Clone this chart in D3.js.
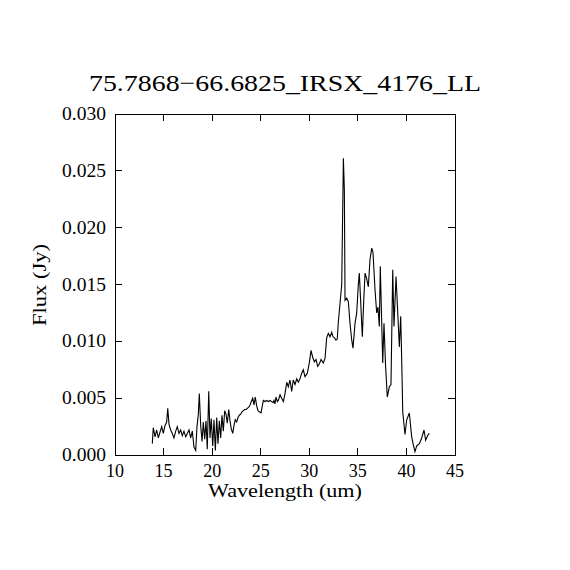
<!DOCTYPE html>
<html>
<head>
<meta charset="utf-8">
<script src="https://cdn.jsdelivr.net/npm/d3@7"></script>
<style>
  body { margin: 0; background: #fff; }
  text { font-family: "Liberation Serif", "DejaVu Serif", serif; fill: #000; }
</style>
</head>
<body>
<div id="chart"></div>
<script>
/* wavelength (um) */
const wavelength = [
  13.84, 13.94, 14.12, 14.29, 14.46, 14.63, 14.81, 14.97, 15.15, 15.32,
  15.43, 15.56, 15.73, 15.90, 16.07, 16.25, 16.41, 16.59, 16.76, 16.93,
  17.10, 17.28, 17.44, 17.62, 17.79, 17.96, 18.13, 18.31, 18.44, 18.58,
  18.68, 18.82, 18.96, 19.09, 19.23, 19.37, 19.50, 19.65, 19.78, 19.91,
  20.06, 20.19, 20.33, 20.47, 20.60, 20.74, 20.88, 21.01, 21.15, 21.29,
  21.43, 21.56, 21.71, 21.84, 21.97, 22.12, 22.25, 22.38, 22.53, 22.66,
  22.80, 22.94, 23.07, 23.21, 23.35, 23.49, 23.62, 23.76, 23.90, 24.03,
  24.18, 24.31, 24.44, 24.59, 24.72, 24.85, 25.03, 25.16, 25.27, 25.44,
  25.62, 25.78, 25.96, 26.13, 26.27, 26.37, 26.47, 26.57, 26.71, 26.81,
  26.99, 27.16, 27.33, 27.50, 27.68, 27.84, 28.01, 28.19, 28.35, 28.53,
  28.71, 28.87, 29.04, 29.22, 29.38, 29.56, 29.80, 30.00, 30.18, 30.35,
  30.52, 30.69, 30.87, 31.03, 31.21, 31.44, 31.62, 31.79, 31.96, 32.13,
  32.31, 32.44, 32.60, 32.75, 32.88, 32.99, 33.16, 33.34, 33.51, 33.61,
  33.68, 33.85, 34.02, 34.19, 34.37, 34.50, 34.71, 34.88, 35.05, 35.15,
  35.29, 35.46, 35.60, 35.74, 35.91, 36.08, 36.25, 36.43, 36.56, 36.77,
  36.94, 37.07, 37.21, 37.31, 37.56, 37.69, 37.85, 38.03, 38.24, 38.41,
  38.59, 38.72, 38.93, 39.08, 39.27, 39.41, 39.51, 39.62, 39.85, 40.03,
  40.30, 40.54, 40.71, 40.88, 41.06, 41.33, 41.57, 41.81, 41.98, 42.17,
  42.36
];

/* flux (Jy) */
const flux = [
  0.0010, 0.0024, 0.0016, 0.0022, 0.0015, 0.0020, 0.0025, 0.0019, 0.0026, 0.0029,
  0.0041, 0.0027, 0.0022, 0.0019, 0.0015, 0.0021, 0.0025, 0.0019, 0.0022, 0.0017,
  0.0021, 0.0016, 0.0019, 0.0022, 0.0015, 0.0021, 0.0007, 0.0004, 0.0025, 0.0036,
  0.0054, 0.0026, 0.0012, 0.0029, 0.0014, 0.0030, 0.0005, 0.0056, 0.0015, 0.0032,
  0.0008, 0.0031, 0.0004, 0.0033, 0.0010, 0.0030, 0.0015, 0.0035, 0.0021, 0.0039,
  0.0036, 0.0028, 0.0040, 0.0030, 0.0023, 0.0019, 0.0026, 0.0031, 0.0029, 0.0033,
  0.0035, 0.0036, 0.0038, 0.0039, 0.0040, 0.0040, 0.0041, 0.0042, 0.0044, 0.0047,
  0.0050, 0.0044, 0.0051, 0.0043, 0.0039, 0.0038, 0.0037, 0.0043, 0.0048, 0.0047,
  0.0048, 0.0047, 0.0048, 0.0047, 0.0046, 0.0048, 0.0045, 0.0051, 0.0047, 0.0048,
  0.0053, 0.0050, 0.0047, 0.0054, 0.0064, 0.0060, 0.0066, 0.0056, 0.0066, 0.0062,
  0.0067, 0.0064, 0.0067, 0.0072, 0.0075, 0.0069, 0.0072, 0.0081, 0.0092, 0.0086,
  0.0082, 0.0084, 0.0078, 0.0080, 0.0084, 0.0081, 0.0085, 0.0103, 0.0107, 0.0104,
  0.0108, 0.0104, 0.0103, 0.0101, 0.0102, 0.0117, 0.0133, 0.0150, 0.0261, 0.0233,
  0.0136, 0.0138, 0.0135, 0.0116, 0.0101, 0.0094, 0.0116, 0.0125, 0.0150, 0.0160,
  0.0135, 0.0104, 0.0135, 0.0160, 0.0155, 0.0148, 0.0172, 0.0182, 0.0178, 0.0145,
  0.0125, 0.0130, 0.0113, 0.0166, 0.0081, 0.0116, 0.0079, 0.0051, 0.0060, 0.0062,
  0.0163, 0.0113, 0.0157, 0.0130, 0.0095, 0.0122, 0.0085, 0.0038, 0.0018, 0.0031,
  0.0037, 0.0016, 0.0009, 0.0003, 0.0008, 0.0010, 0.0015, 0.0022, 0.0013, 0.0017,
  0.0019
];

const xTicks = [10, 15, 20, 25, 30, 35, 40, 45];
const yTicks = [0.000, 0.005, 0.010, 0.015, 0.020, 0.025, 0.030];

const titleText = '75.7868\u221266.6825_IRSX_4176_LL';
const xLabel = 'Wavelength (um)';
const yLabel = 'Flux (Jy)';

const w = 570;
const h = 570;
const margin = {left: 115, right: 115, top: 114, bottom: 115};
const tickLen = 7;

const svg = d3.select('#chart')
  .append('svg')
  .attr('width', w)
  .attr('height', h);

const x = d3.scaleLinear().domain([10, 45]).range([margin.left, w - margin.right]);
const y = d3.scaleLinear().domain([0, 0.03]).range([h - margin.bottom, margin.top]);

/* ticks inside the frame, all four sides */
const ticks = svg.append('g')
  .attr('stroke', '#000')
  .attr('stroke-width', 1)
  .attr('shape-rendering', 'crispEdges');
xTicks.forEach(t => {
  ticks.append('line')
    .attr('x1', x(t)).attr('x2', x(t))
    .attr('y1', y(0)).attr('y2', y(0) - tickLen);
  ticks.append('line')
    .attr('x1', x(t)).attr('x2', x(t))
    .attr('y1', y(0.03)).attr('y2', y(0.03) + tickLen);
});
yTicks.forEach(t => {
  ticks.append('line')
    .attr('x1', x(10)).attr('x2', x(10) + tickLen)
    .attr('y1', y(t)).attr('y2', y(t));
  ticks.append('line')
    .attr('x1', x(45)).attr('x2', x(45) - tickLen)
    .attr('y1', y(t)).attr('y2', y(t));
});

/* frame */
svg.append('rect')
  .attr('x', x(10) + 0.5)
  .attr('y', y(0.03) + 0.5)
  .attr('width', x(45) - x(10))
  .attr('height', y(0) - y(0.03))
  .attr('fill', 'none')
  .attr('stroke', '#000')
  .attr('stroke-width', 1);

/* tick labels */
svg.append('g').selectAll('text')
  .data(xTicks)
  .join('text')
  .attr('x', d => x(d))
  .attr('y', y(0) + 22)
  .attr('text-anchor', 'middle')
  .attr('font-size', 18)
  .text(d => d);

svg.append('g').selectAll('text')
  .data(yTicks)
  .join('text')
  .attr('x', x(10) - 9)
  .attr('y', d => y(d) + 6)
  .attr('text-anchor', 'end')
  .attr('font-size', 18)
  .attr('textLength', 44)
  .attr('lengthAdjust', 'spacingAndGlyphs')
  .text(d => d.toFixed(3));

/* spectrum */
const pts = wavelength.map((wl, i) => [wl, flux[i]]);
const line = d3.line().x(d => x(d[0])).y(d => y(d[1]));
svg.append('path')
  .datum(pts)
  .attr('d', line)
  .attr('fill', 'none')
  .attr('stroke', '#000')
  .attr('stroke-width', 1.1);

/* title and axis labels */
svg.append('text')
  .attr('x', 285)
  .attr('y', 91)
  .attr('text-anchor', 'middle')
  .attr('font-size', 24)
  .attr('textLength', 392)
  .attr('lengthAdjust', 'spacingAndGlyphs')
  .text(titleText);

svg.append('text')
  .attr('x', 285)
  .attr('y', 497)
  .attr('text-anchor', 'middle')
  .attr('font-size', 18)
  .attr('textLength', 154)
  .attr('lengthAdjust', 'spacingAndGlyphs')
  .text(xLabel);

svg.append('text')
  .attr('transform', 'translate(46,285) rotate(-90)')
  .attr('text-anchor', 'middle')
  .attr('font-size', 18)
  .attr('textLength', 82)
  .attr('lengthAdjust', 'spacingAndGlyphs')
  .text(yLabel);
</script>
</body>
</html>
